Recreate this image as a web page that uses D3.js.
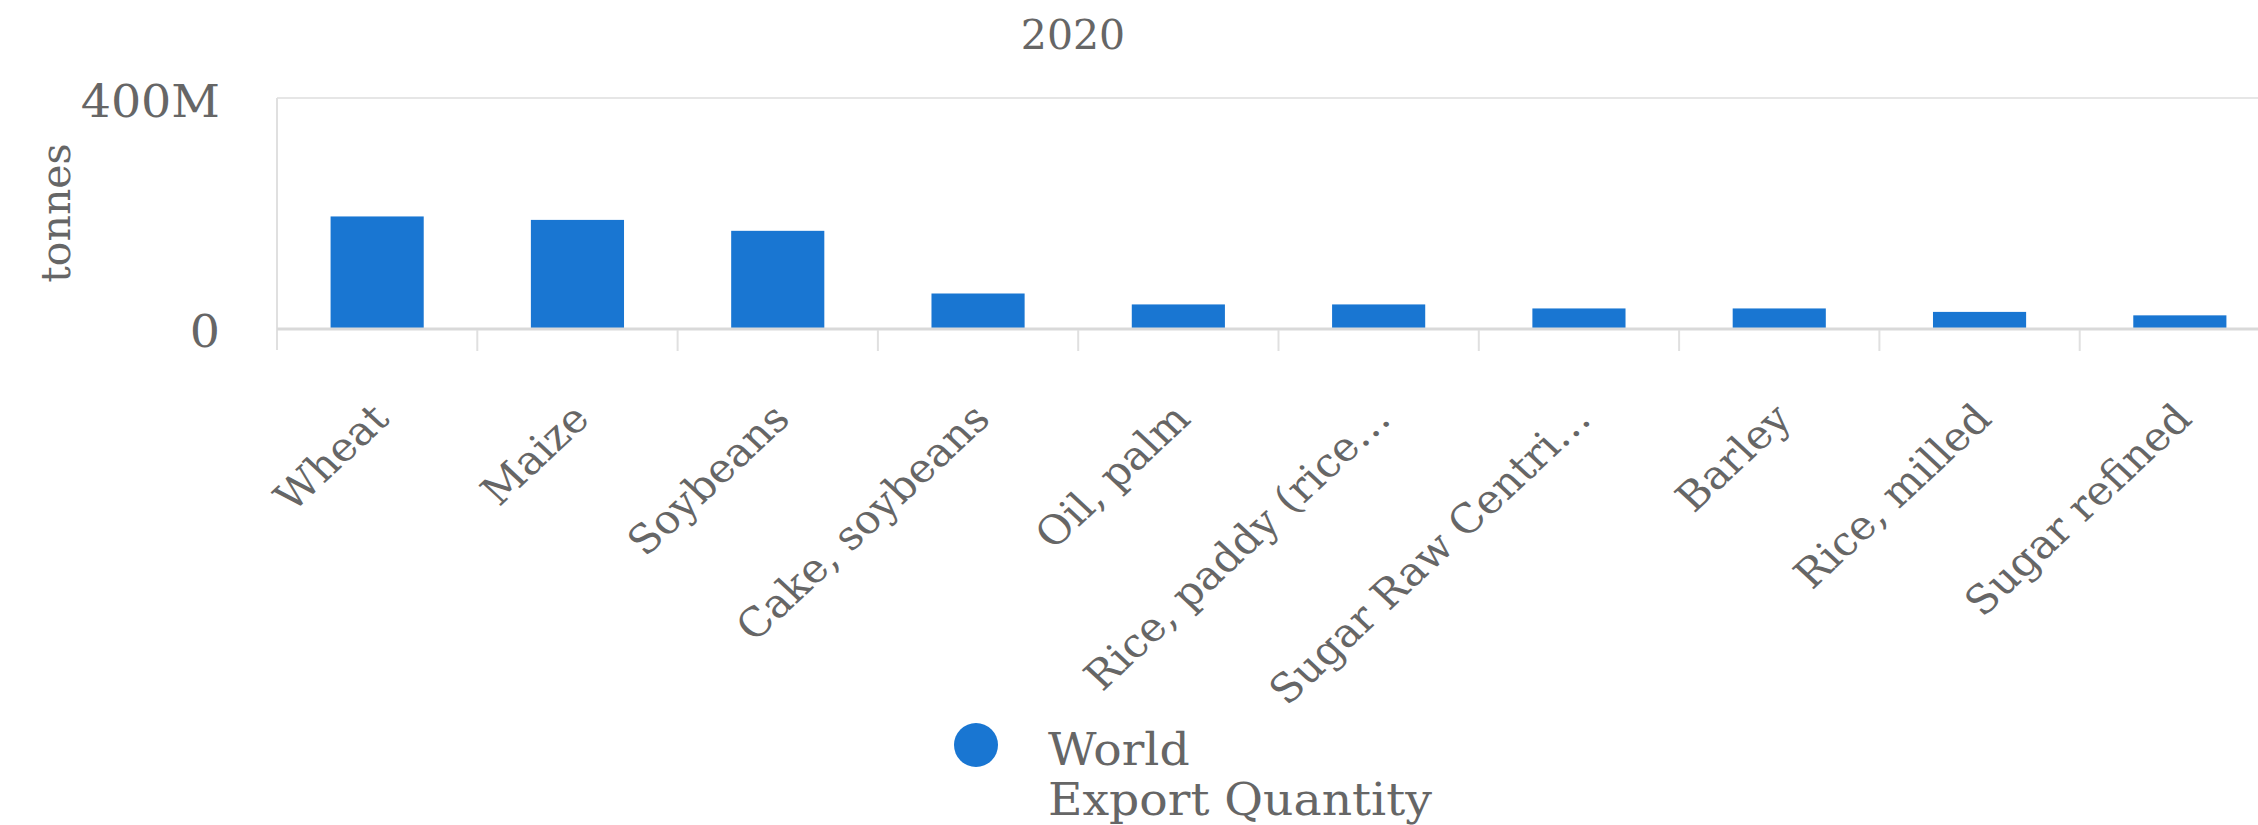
<!DOCTYPE html>
<html>
<head>
<meta charset="utf-8">
<script src="https://cdn.jsdelivr.net/npm/d3@7"></script>
<style>
  html, body { margin: 0; padding: 0; background: #ffffff; }
  svg { display: block; }
  text { font-family: "DejaVu Serif", serif; fill: #666666; }
</style>
</head>
<body>
<svg id="chart" width="2258" height="825"></svg>
<script>
// ---- data ----
const title = "2020";
const categories = ["Wheat", "Maize", "Soybeans", "Cake, soybeans", "Oil, palm",
  "Rice, paddy (rice milled equivalent)", "Sugar Raw Centrifugal", "Barley", "Rice, milled", "Sugar refined"];
const exportQuantity = [194e6, 188e6, 169e6, 60e6, 41e6, 41e6, 34e6, 34e6, 28e6, 22e6];
const yTicks = [0, 400e6];
const yTickLabels = ["0", "400M"];
const yAxisTitle = "tonnes";
const legendLines = ["World", "Export Quantity"];

// ---- layout ----
const W = 2258, H = 825;
const plot = { left: 277, right: 2280, top: 98, bottom: 328 };
const barColor = "#1976D2";
const stretch = 1.07; // horizontal stretch of the reference rendering
const svg = d3.select("#chart");

const x = d3.scaleBand().domain(categories).range([plot.left, plot.right]).padding(0);
const y = d3.scaleLinear().domain([0, 400e6]).range([plot.bottom, plot.top]);
const barW = x.step() * 0.465;

// title
svg.append("text").attr("x", 1073).attr("y", 49).attr("text-anchor", "middle")
  .style("font-size", "41px").text(title);

// grid line at top
svg.append("line").attr("x1", plot.left).attr("x2", W)
  .attr("y1", y(400e6)).attr("y2", y(400e6))
  .attr("stroke", "#e6e6e6").attr("stroke-width", 2);

// left axis line
svg.append("line").attr("x1", plot.left).attr("x2", plot.left)
  .attr("y1", plot.top).attr("y2", plot.bottom + 22)
  .attr("stroke", "#e0e0e0").attr("stroke-width", 2);

// bars
svg.append("g").selectAll("rect").data(categories).join("rect")
  .attr("x", (d) => x(d) + (x.step() - barW) / 2)
  .attr("width", barW)
  .attr("y", (d, i) => y(exportQuantity[i]))
  .attr("height", (d, i) => y(0) - y(exportQuantity[i]))
  .attr("fill", barColor);

// x axis baseline
svg.append("line").attr("x1", plot.left).attr("x2", W)
  .attr("y1", plot.bottom + 1).attr("y2", plot.bottom + 1)
  .attr("stroke", "#d9d9d9").attr("stroke-width", 3);

// category boundary ticks
svg.append("g").selectAll("line").data(categories.slice(1)).join("line")
  .attr("x1", (d) => x(d)).attr("x2", (d) => x(d))
  .attr("y1", plot.bottom + 2).attr("y2", plot.bottom + 23)
  .attr("stroke", "#e0e0e0").attr("stroke-width", 2);

// y tick labels
svg.append("g").selectAll("text").data(yTicks).join("text")
  .attr("transform", (d) => `translate(220, ${y(d) + 19}) scale(1.08, 1)`)
  .attr("text-anchor", "end").style("font-size", "44px")
  .text((d, i) => yTickLabels[i]);

// y axis title
svg.append("text")
  .attr("transform", `translate(70, ${(plot.top + plot.bottom) / 2}) rotate(-90)`)
  .attr("text-anchor", "middle").style("font-size", "41px").text(yAxisTitle);

// x labels (rotated, truncated with ellipsis)
const maxLabelLen = 405;
const labels = svg.append("g").selectAll("text").data(categories).join("text")
  .attr("text-anchor", "end")
  .attr("transform", (d) => `translate(${x(d) + x.step() / 2 + 14}, 421) scale(${stretch}, 1) rotate(-45)`)
  .style("font-size", "40px")
  .text((d) => d);
labels.each(function (d) {
  const el = d3.select(this);
  if (this.getComputedTextLength() <= maxLabelLen) return;
  let s = d;
  while (s.length > 1) {
    s = s.slice(0, -1);
    el.text(s.trimEnd() + "\u2026");
    if (this.getComputedTextLength() <= maxLabelLen) break;
  }
});

// legend
svg.append("circle").attr("cx", 976).attr("cy", 745).attr("r", 22).attr("fill", barColor);
svg.append("g").selectAll("text").data(legendLines).join("text")
  .attr("transform", (d, i) => `translate(1048, ${765 + i * 50}) scale(1.05, 1)`)
  .style("font-size", "45px").text((d) => d);
</script>
</body>
</html>
